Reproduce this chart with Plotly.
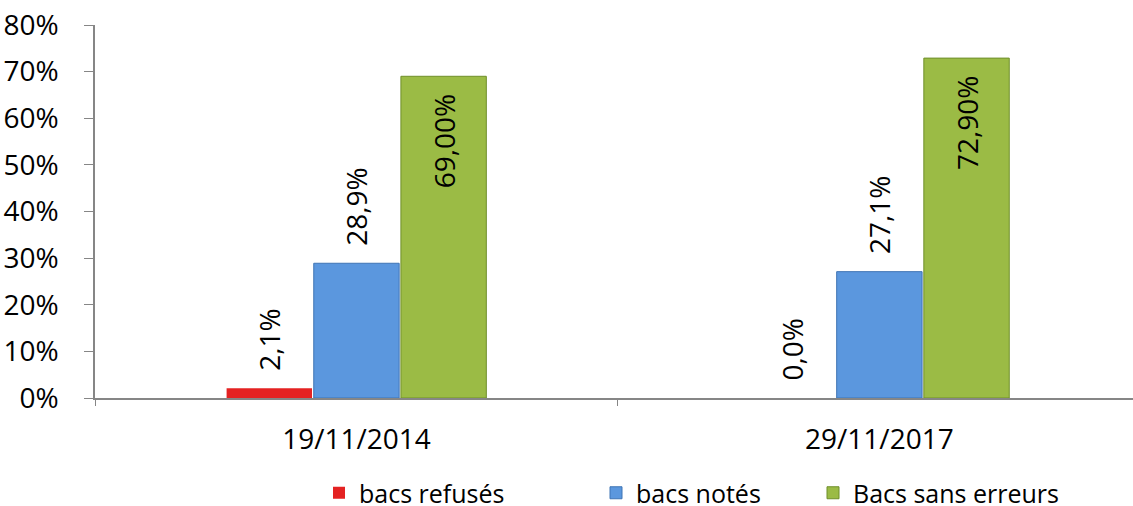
import plotly.graph_objects as go

categories = ["19/11/2014", "29/11/2017"]
series_names = ["bacs refusés", "bacs notés", "Bacs sans erreurs"]
refuses = [0.021, 0.0]
notes = [0.289, 0.271]
sans_erreurs = [0.69, 0.729]
refuses_labels = ["2,1%", "0,0%"]
notes_labels = ["28,9%", "27,1%"]
sans_erreurs_labels = ["69,00%", "72,90%"]
y_ticks = [0, 0.1, 0.2, 0.3, 0.4, 0.5, 0.6, 0.7, 0.8]
y_tick_labels = ["0%", "10%", "20%", "30%", "40%", "50%", "60%", "70%", "80%"]

FONT = "Open Sans"
FS = 28
LEG_FS = 25
PAD = "\u00a0\u00a0"  # spacing between bar end and its label

fig = go.Figure()
specs = [
    (series_names[0], refuses, [PAD + t for t in refuses_labels], "#e42222", 0, "outside", "legend"),
    (series_names[1], notes, [PAD + t for t in notes_labels], "#5b97de", 1, "outside", "legend2"),
    (series_names[2], sans_erreurs, [t + PAD for t in sans_erreurs_labels], "#9bbb45", 1, "inside", "legend3"),
]
edges = {"#e42222": "#a81515", "#5b97de": "#3f74b5", "#9bbb45": "#6f8f2a"}
for name, vals, labels, col, lw, pos, lg in specs:
    fig.add_trace(go.Bar(
        name=name, x=categories, y=vals, text=labels,
        textposition=pos, insidetextanchor="end", textangle=-90,
        textfont=dict(family=FONT, size=FS, color="black"),
        constraintext="none", cliponaxis=False,
        marker=dict(color=col, line=dict(color=edges[col], width=lw)),
        legend=lg, showlegend=True,
    ))

def leg(px):
    return dict(orientation="h", xref="container", yref="container",
                x=px / 1133, y=(506 - 493) / 506, xanchor="left", yanchor="middle",
                font=dict(family=FONT, size=LEG_FS, color="black"),
                bgcolor="rgba(0,0,0,0)", borderwidth=0, visible=True)

fig.update_layout(
    width=1133, height=506,
    showlegend=True,
    margin=dict(l=95, r=0, t=25, b=108),
    plot_bgcolor="white", paper_bgcolor="white",
    barmode="group", bargap=0.5, bargroupgap=0.02,
    font=dict(family=FONT, size=FS, color="black"),
    legend=leg(319),
    legend2=leg(596),
    legend3=leg(813),
    xaxis=dict(type="category", range=[-0.5, 1.485], tickson="boundaries",
               ticks="outside", ticklen=6, tickcolor="#868686",
               showline=True, linecolor="#868686", linewidth=1.5,
               showgrid=False, ticklabelstandoff=16, automargin=False,
               tickfont=dict(family=FONT, size=FS, color="black")),
    yaxis=dict(range=[0, 0.8], tickvals=y_ticks, ticktext=y_tick_labels,
               ticks="outside", ticklen=9, tickcolor="#868686",
               showline=True, linecolor="#868686", linewidth=1.5,
               showgrid=False, zeroline=False, ticklabelstandoff=20, automargin=False,
               tickfont=dict(family=FONT, size=FS, color="black")),
)

fig.write_html("out.html", config={"displayModeBar": False},
               post_script="document.body.style.margin='0';")
